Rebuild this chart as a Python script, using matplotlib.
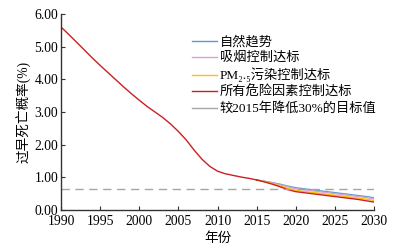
import matplotlib
matplotlib.use("Agg")
import matplotlib.pyplot as plt

plt.rcParams['font.family'] = ['Liberation Serif', 'Noto Sans CJK SC', 'DejaVu Serif']

years_hist = list(range(1990, 2016))
hist = [5.61, 5.38, 5.14, 4.90, 4.66, 4.43, 4.21, 3.99, 3.77, 3.56, 3.36,
        3.17, 3.00, 2.83, 2.63, 2.40, 2.14, 1.83, 1.55, 1.33, 1.18,
        1.10, 1.05, 1.00, 0.96, 0.91]

years_proj = list(range(2015, 2031))
natural = [0.91, 0.87, 0.83, 0.78, 0.72, 0.67, 0.64, 0.61, 0.58, 0.55, 0.52, 0.49, 0.46, 0.43, 0.40, 0.36]
smoking = [0.91, 0.86, 0.82, 0.76, 0.70, 0.64, 0.61, 0.58, 0.55, 0.52, 0.49, 0.46, 0.43, 0.40, 0.37, 0.33]
pm25 = [0.91, 0.86, 0.80, 0.73, 0.65, 0.59, 0.56, 0.53, 0.50, 0.47, 0.44, 0.41, 0.38, 0.35, 0.32, 0.28]
allrisk = [0.91, 0.85, 0.78, 0.70, 0.61, 0.55, 0.52, 0.49, 0.46, 0.43, 0.40, 0.37, 0.34, 0.31, 0.27, 0.23]
target = 0.63

labels = ['自然趋势', '吸烟控制达标', 'PM₂.₅污染控制达标', '所有危险因素控制达标', '较2015年降低30%的目标值']
colors = ['#5b9bd5', '#d8a0d8', '#ffc000', '#cc2020', '#a6a6a6']
xticks = [1990, 1995, 2000, 2005, 2010, 2015, 2020, 2025, 2030]
yticks = [0, 1, 2, 3, 4, 5, 6]

fig = plt.figure(figsize=(4.07, 2.48), dpi=100)
ax = fig.add_axes([0.150, 0.155, 0.769, 0.787])

fs = 9.8
h1, = ax.plot(years_proj, natural, color=colors[0], lw=1.0)
h2, = ax.plot(years_proj, smoking, color=colors[1], lw=1.0)
h3, = ax.plot(years_proj, pm25, color=colors[2], lw=1.0)
h4, = ax.plot(years_proj, allrisk, color=colors[3], lw=1.0)
ax.plot(years_hist, hist, color=colors[3], lw=1.0)
ax.plot([years_hist[0], years_proj[-1]], [target, target], color=colors[4], lw=1.0, ls=(0, (6, 4)))
h5, = ax.plot([], [], color=colors[4], lw=1.0)

ax.set_xlim(1990, 2030)
ax.set_ylim(0, 6)
ax.set_xticks(xticks)
ax.set_yticks(yticks)
ax.set_yticklabels([f"{v:.2f}" for v in yticks], fontsize=fs)
ax.set_xticklabels([str(v) for v in xticks], fontsize=fs)
ax.tick_params(direction='in', length=3, width=0.8, color='#333333')
ax.tick_params(axis='x', pad=4)
ax.tick_params(axis='y', pad=2)
for s in ['top', 'right']:
    ax.spines[s].set_visible(False)
for s in ['left', 'bottom']:
    ax.spines[s].set_color('#333333')
    ax.spines[s].set_linewidth(1.0)

ax.set_ylabel('过早死亡概率(%)', fontsize=fs, labelpad=2)
ax.set_xlabel('年份', fontsize=fs, labelpad=3)

leg = fig.legend([h1, h2, h3, h4, h5], labels, loc='upper left',
                 bbox_to_anchor=(192 / 407, 1 - 36 / 248), frameon=False,
                 fontsize=9.5, handlelength=1.9, handletextpad=0.2,
                 labelspacing=0.26, borderpad=0, borderaxespad=0)

fig.savefig('out.png', dpi=100)
